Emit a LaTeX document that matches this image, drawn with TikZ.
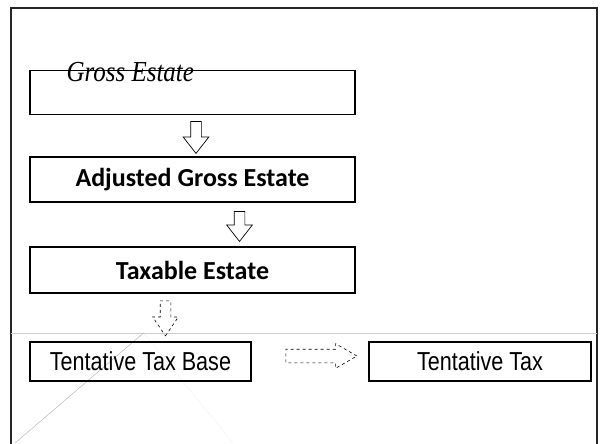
\documentclass[tikz,border=0pt]{standalone}
\usepackage{fontspec}
\newfontfamily\boldsans{Carlito}
\newfontfamily\narrowsans[FakeStretch=0.83]{Liberation Sans}
\newfontfamily\italserif[FakeStretch=0.86]{Liberation Serif}
\usetikzlibrary{shapes.arrows}

\begin{document}
\begin{tikzpicture}[
    x=1pt, y=-1pt,
    box/.style={rectangle, draw, line width=1.5pt, minimum width=325pt, inner sep=0pt},
    smallbox/.style={box, minimum width=221pt, minimum height=39pt,
        font=\narrowsans\fontsize{26}{28}\selectfont},
    flowarrow/.style={single arrow, draw, line width=0.7pt, inner sep=5pt,
        single arrow head extend=7.5pt, single arrow tip angle=76},
]
    \useasboundingbox (0,0) rectangle (600,444);

    % Frame and thin lines
    \draw[line width=2pt, black!85] (11,450) |- (597,8) -- (597,450);
    \draw[gray!40, line width=0.6pt] (11,333) -- (597,333);
    \draw[gray!55, line width=0.5pt] (15,443) -- (143.5,333);
    \draw[gray!30, line width=0.4pt, densely dotted] (143.5,333) -- (233,443);

    % Column of estates
    \node[box, minimum height=44pt] (gross) at (192.5,92.5) {};
    \node[font=\italserif\itshape\fontsize{29}{31}\selectfont, anchor=base west, inner sep=0pt]
        (grosstext) at (66.5,81.5) {Gross Estate};
    \node[flowarrow, shape border rotate=270, minimum height=32pt] (arrA) at (196,134) {};

    \node[box, minimum height=45pt, font=\boldsans\bfseries\fontsize{26}{28}\selectfont]
        (adjusted) at (192.5,179.5) {Adjusted Gross Estate};
    \node[flowarrow, shape border rotate=270, minimum height=30pt] (arrB) at (239.5,223) {};

    \node[box, minimum height=46pt, font=\boldsans\bfseries\fontsize{26}{28}\selectfont]
        (taxable) at (192.5,270) {Taxable Estate};
    \node[flowarrow, dashed, line width=0.6pt, shape border rotate=270, minimum height=35pt,
        single arrow tip angle=68] (arrC) at (165.5,314.5) {};

    % Bottom row
    \node[smallbox] (base) at (140.5,361.5) {Tentative Tax Base};
    \node[flowarrow, dashed, line width=0.6pt, inner sep=6.5pt, single arrow head extend=5.5pt,
        single arrow tip angle=60, minimum height=71pt] (arrD) at (315.5,356) {};
    \node[smallbox, minimum width=222pt] (tax) at (480,361.5) {Tentative Tax};
\end{tikzpicture}
\end{document}
